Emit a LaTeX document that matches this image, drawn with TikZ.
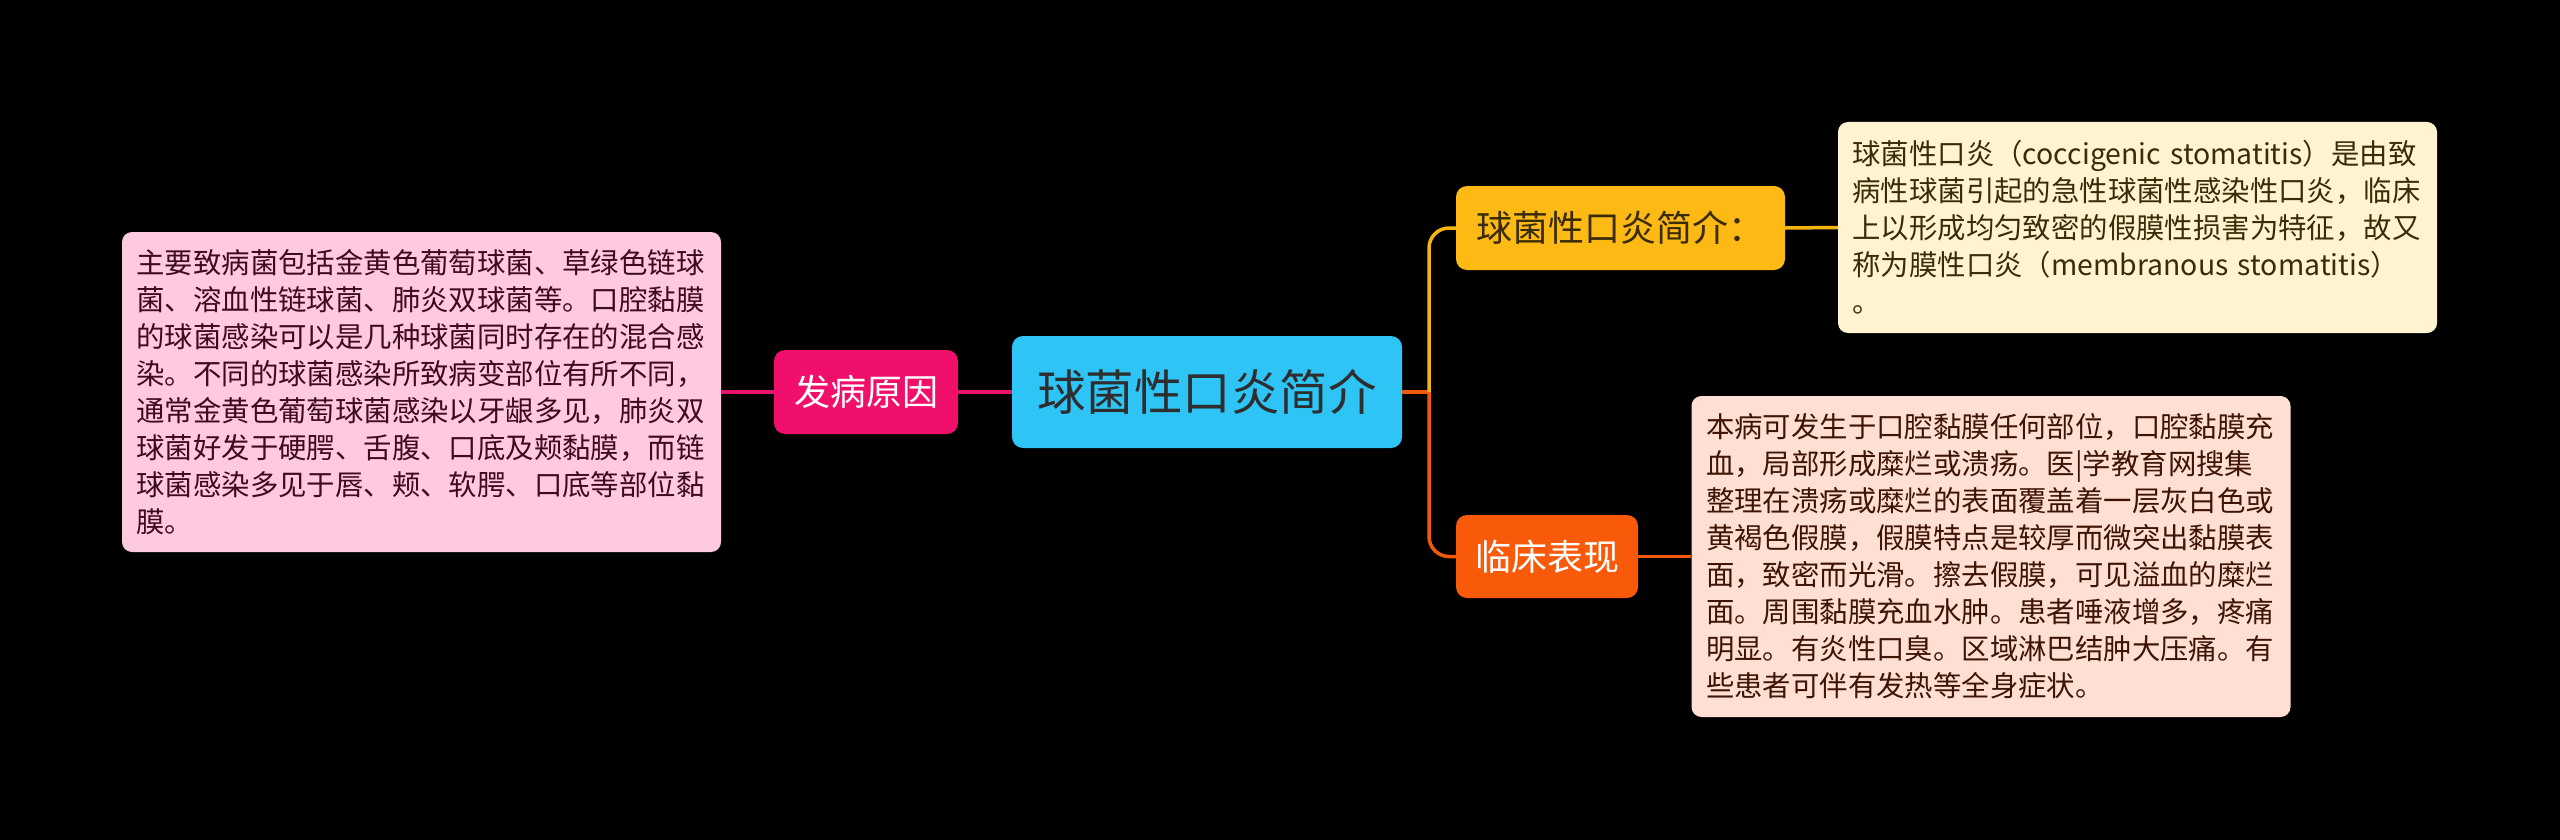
\documentclass[tikz,border=0pt]{standalone}
\usepackage{fontspec}
\newfontfamily\cjk{Noto Sans CJK SC}
\definecolor{bgc}{HTML}{000000}
\definecolor{centralfill}{HTML}{2EC4F5}
\definecolor{centraltext}{HTML}{2E2E2E}
\definecolor{pinkfill}{HTML}{F0106C}
\definecolor{pinkline}{HTML}{E8116C}
\definecolor{pinknote}{HTML}{FFC9E0}
\definecolor{pinktext}{HTML}{3E0A1E}
\definecolor{yellowfill}{HTML}{FDB914}
\definecolor{yellowline}{HTML}{F5B50F}
\definecolor{yellowtext}{HTML}{3A2C08}
\definecolor{yellownote}{HTML}{FFF3D2}
\definecolor{yellownotetext}{HTML}{3A2C05}
\definecolor{orangefill}{HTML}{F85A0A}
\definecolor{orangeline}{HTML}{F05A0A}
\definecolor{orangenote}{HTML}{FFDFD3}
\definecolor{orangenotetext}{HTML}{3E1406}
\begin{document}
\begin{tikzpicture}[x=1pt,y=-1pt,
  topic/.style={rounded corners=11pt, inner sep=0pt, align=center},
  note/.style={rounded corners=10pt, inner sep=0pt, align=left, text width=570pt,
    minimum width=599pt, font=\cjk\fontsize{28.4}{37}\selectfont},
  conn/.style={line width=3.5pt, rounded corners=20pt}
]
\fill[bgc] (0,0) rectangle (2560,840);
\useasboundingbox (0,0) rectangle (2560,840);

% nodes
\node[topic, fill=centralfill, text=centraltext, minimum width=390pt, minimum height=112pt,
  font=\cjk\fontsize{48.5}{56}\selectfont] (central) at (1207,392) {球菌性口炎简介};

\node[topic, fill=pinkfill, text=white, minimum width=184pt, minimum height=84pt,
  font=\cjk\fontsize{36}{42}\selectfont] (cause) at (866,392) {发病原因};

\node[note, fill=pinknote, text=pinktext, minimum height=320pt] (causenote) at (421.5,392)
  {主要致病菌包括金黄色葡萄球菌、草绿色链球\\
   菌、溶血性链球菌、肺炎双球菌等。口腔黏膜\\
   的球菌感染可以是几种球菌同时存在的混合感\\
   染。不同的球菌感染所致病变部位有所不同，\\
   通常金黄色葡萄球菌感染以牙龈多见，肺炎双\\
   球菌好发于硬腭、舌腹、口底及颊黏膜，而链\\
   球菌感染多见于唇、颊、软腭、口底等部位黏\\
   膜。};

\node[topic, fill=yellowfill, text=yellowtext, minimum width=329pt, minimum height=84pt,
  font=\cjk\fontsize{36}{42}\selectfont] (intro) at (1620.5,228) {球菌性口炎简介：};

\node[note, fill=yellownote, text=yellownotetext, minimum height=211pt] (intronote) at (2137.5,227.5)
  {球菌性口炎（coccigenic stomatitis）是由致\\
   病性球菌引起的急性球菌性感染性口炎，临床\\
   上以形成均匀致密的假膜性损害为特征，故又\\
   称为膜性口炎（membranous stomatitis）\\
   。};

\node[topic, fill=orangefill, text=white, minimum width=182pt, minimum height=83pt,
  font=\cjk\fontsize{36}{42}\selectfont] (clinic) at (1547,556.5) {临床表现};

\node[note, fill=orangenote, text=orangenotetext, minimum height=321pt] (clinicnote) at (1991,556.5)
  {本病可发生于口腔黏膜任何部位，口腔黏膜充\\
   血，局部形成糜烂或溃疡。医|学教育网搜集\\
   整理在溃疡或糜烂的表面覆盖着一层灰白色或\\
   黄褐色假膜，假膜特点是较厚而微突出黏膜表\\
   面，致密而光滑。擦去假膜，可见溢血的糜烂\\
   面。周围黏膜充血水肿。患者唾液增多，疼痛\\
   明显。有炎性口臭。区域淋巴结肿大压痛。有\\
   些患者可伴有发热等全身症状。};

% connectors
\coordinate (j) at (1429,392);
\draw[conn, pinkline] (central.west) -- (cause.east);
\draw[conn, pinkline] (cause.west) -- (causenote.east);
\draw[conn, orangeline] (central.east) -- (j);
\draw[conn, orangeline] (j) |- (clinic.west);
\draw[conn, yellowline] (j) |- (intro.west);
\draw[conn, yellowline] (intro.east) -- (intronote.west);
\draw[conn, orangeline] (clinic.east) -- (clinicnote.west);
\end{tikzpicture}
\end{document}
